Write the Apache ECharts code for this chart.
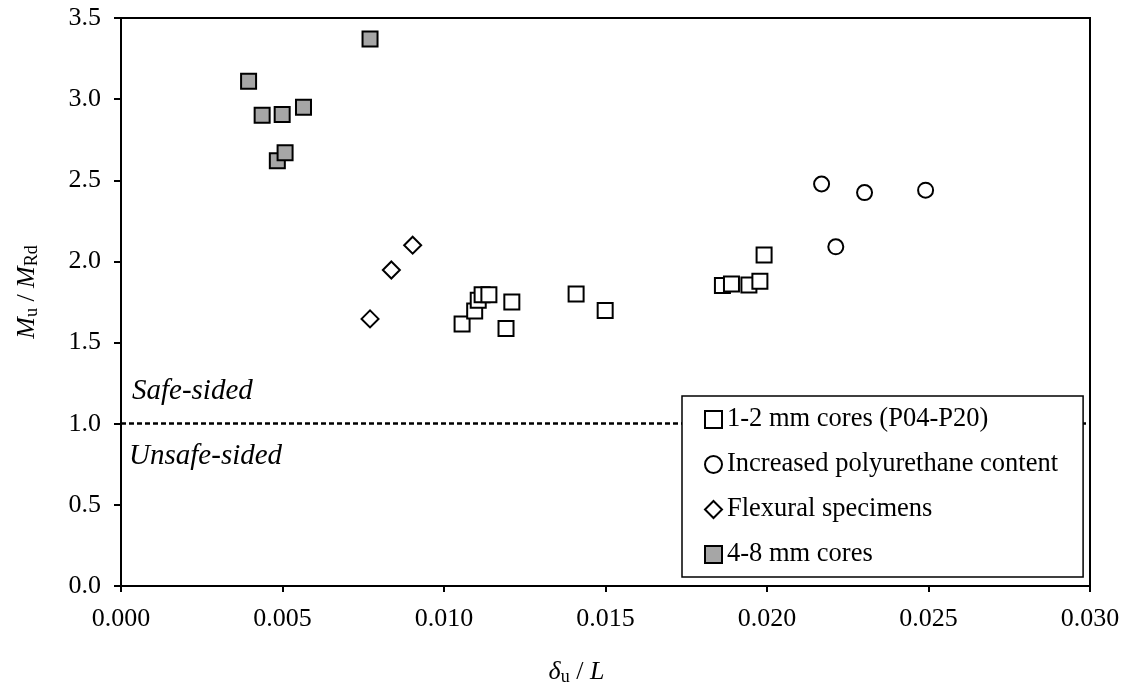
<!DOCTYPE html>
<html>
<head>
<meta charset="utf-8">
<title>Mu/MRd vs deflection</title>
<script src="https://cdn.jsdelivr.net/npm/echarts@6/dist/echarts.min.js"></script>
</head>
<body style="margin:0">
<div id="main" style="width:1129px;height:693px"></div>
<script>
// series names
const seriesNames = ['1-2 mm cores (P04-P20)', 'Increased polyurethane content', 'Flexural specimens', '4-8 mm cores'];

// [delta_u / L, Mu / MRd]
const cores12 = [
  [0.01056, 1.614], [0.01095, 1.695], [0.01106, 1.761], [0.01118, 1.794], [0.01139, 1.794],
  [0.01210, 1.750], [0.01192, 1.587], [0.01409, 1.800], [0.01499, 1.697],
  [0.01862, 1.851], [0.01890, 1.861], [0.01944, 1.855], [0.01978, 1.878], [0.01991, 2.039]
];
const polyurethane = [[0.02169, 2.477], [0.02302, 2.424], [0.02491, 2.439], [0.02213, 2.090]];
const flexural = [[0.00771, 1.646], [0.00837, 1.947], [0.00903, 2.100]];
const cores48 = [
  [0.00395, 3.110], [0.00771, 3.370], [0.00437, 2.900], [0.00499, 2.905],
  [0.00565, 2.950], [0.00484, 2.620], [0.00508, 2.670]
];

const serif = 'Liberation Serif, Times New Roman, serif';
const fs = 26;

var chart = echarts.init(document.getElementById('main'));

var option = {
  animation: false,
  textStyle: { fontFamily: serif, color: '#000' },
  grid: { left: 121, right: 39, top: 18, bottom: 107, show: true, borderColor: '#000', borderWidth: 2, backgroundColor: 'transparent' },
  xAxis: {
    type: 'value', min: 0, max: 0.030, interval: 0.005,
    axisLine: { show: true, lineStyle: { color: '#000', width: 2 } },
    axisTick: { show: true, length: 6, lineStyle: { color: '#000', width: 2 } },
    axisLabel: { color: '#000', fontFamily: serif, fontSize: fs, margin: 20, formatter: v => v.toFixed(3) },
    splitLine: { show: false },
    name: '{i|δ}{s|u}{n| / }{i|L}',
    nameLocation: 'middle', nameGap: 72,
    nameTextStyle: {
      padding: [0, 58, 0, 0],
      rich: {
        i: { fontFamily: serif, fontStyle: 'italic', fontSize: fs, color: '#000' },
        n: { fontFamily: serif, fontSize: fs, color: '#000' },
        s: { fontFamily: serif, fontSize: 18, color: '#000', verticalAlign: 'bottom', padding: [10, 0, 0, 0] }
      }
    }
  },
  yAxis: {
    type: 'value', min: 0, max: 3.5, interval: 0.5,
    axisLine: { show: true, lineStyle: { color: '#000', width: 2 } },
    axisTick: { show: true, length: 7, lineStyle: { color: '#000', width: 2 } },
    axisLabel: { color: '#000', fontFamily: serif, fontSize: fs, margin: 20, formatter: v => v.toFixed(1) },
    splitLine: { show: false },
    name: '{i|M}{s|u}{n| / }{i|M}{s|Rd}',
    nameLocation: 'middle', nameGap: 80,
    nameTextStyle: {
      padding: [0, 0, 0, 20],
      rich: {
        i: { fontFamily: serif, fontStyle: 'italic', fontSize: fs, color: '#000' },
        n: { fontFamily: serif, fontSize: fs, color: '#000' },
        s: { fontFamily: serif, fontSize: 18, color: '#000', verticalAlign: 'bottom', padding: [10, 0, 0, 0] }
      }
    }
  },
  legend: {
    orient: 'vertical', left: 682, top: 396, z: 10,
    padding: [10, 25, 9, 22], itemGap: 18, itemWidth: 17, itemHeight: 17,
    backgroundColor: '#fff', borderColor: '#000', borderWidth: 1.5,
    textStyle: { fontFamily: serif, fontSize: 26.5, color: '#000', lineHeight: 26 },
    data: seriesNames
  },
  series: [
    {
      name: seriesNames[0], type: 'scatter', data: cores12, symbol: 'rect', symbolSize: 15,
      itemStyle: { color: '#fff', borderColor: '#000', borderWidth: 2, opacity: 1 },
      markLine: {
        silent: true, symbol: 'none', animation: false,
        label: { show: false },
        lineStyle: { color: '#000', width: 2.5, type: [5, 3], opacity: 1 },
        data: [{ yAxis: 1.0 }]
      },
      z: 3
    },
    {
      name: seriesNames[1], type: 'scatter', data: polyurethane, symbol: 'circle', symbolSize: 15,
      itemStyle: { color: '#fff', borderColor: '#000', borderWidth: 2, opacity: 1 }
    },
    {
      name: seriesNames[2], type: 'scatter', data: flexural, symbol: 'diamond', symbolSize: 17,
      itemStyle: { color: '#fff', borderColor: '#000', borderWidth: 2, opacity: 1 }
    },
    {
      name: seriesNames[3], type: 'scatter', data: cores48, symbol: 'rect', symbolSize: 15,
      itemStyle: { color: '#a6a6a6', borderColor: '#000', borderWidth: 2, opacity: 1 }
    }
  ]
};
chart.setOption(option);

// annotations anchored to data coordinates
var annFont = 'italic 29px ' + serif;
var pSafe = chart.convertToPixel({ gridIndex: 0 }, [0.00034, 1.20]);
var pUnsafe = chart.convertToPixel({ gridIndex: 0 }, [0.00025, 0.80]);
chart.setOption({
  graphic: [
    { type: 'text', x: pSafe[0], y: pSafe[1], style: { text: 'Safe-sided', font: annFont, fill: '#000', verticalAlign: 'middle' } },
    { type: 'text', x: pUnsafe[0], y: pUnsafe[1], style: { text: 'Unsafe-sided', font: annFont, fill: '#000', verticalAlign: 'middle' } }
  ]
});
</script>
</body>
</html>
